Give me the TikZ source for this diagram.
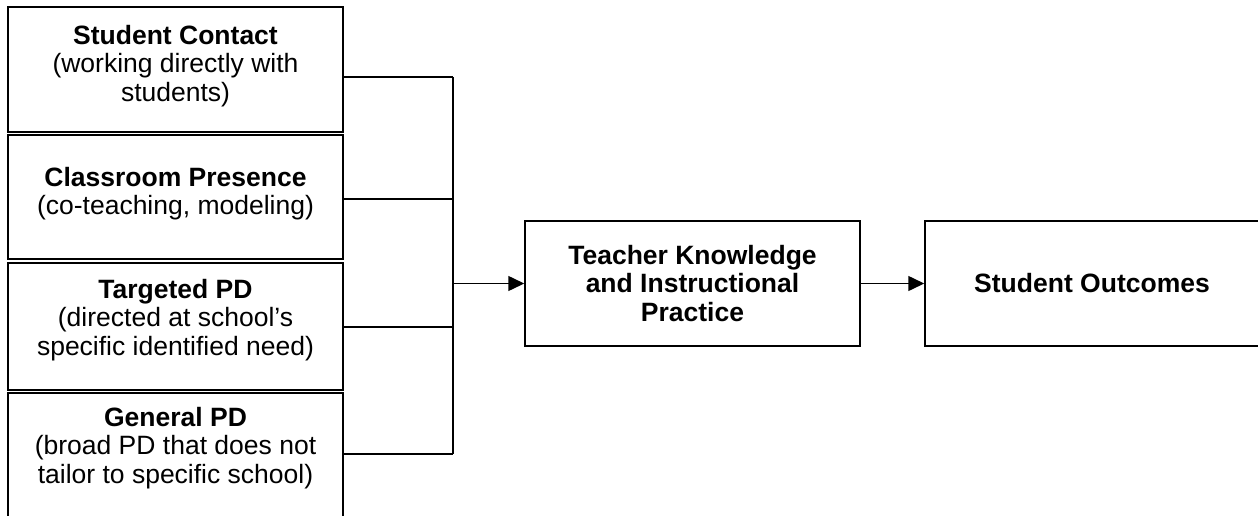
\documentclass[tikz,border=0pt]{standalone}
\usepackage{fontspec}
\setmainfont{Liberation Sans}
\usetikzlibrary{arrows.meta}
\begin{document}
\begin{tikzpicture}[x=1pt,y=-1pt,
  box/.style={draw,line width=1.5pt,inner sep=0pt},
  txt/.style={inner sep=0pt,align=center,font=\fontsize{26.5}{28.5}\selectfont},
  arr/.style={line width=1.5pt,-{Triangle[length=16pt,width=15pt]}},
  conn/.style={line width=1.5pt}]
\useasboundingbox (0,0) rectangle (1258,516);
\clip (0,0) rectangle (1258,516);
% left boxes
\node[box,minimum width=335pt,minimum height=125pt] (b1) at (175.5,69.5) {};
\node[box,minimum width=335pt,minimum height=124pt] (b2) at (175.5,197) {};
\node[box,minimum width=335pt,minimum height=127pt] (b3) at (175.5,326.5) {};
\node[box,minimum width=335pt,minimum height=127pt] (b4) at (175.5,456.5) {};
% left texts
\node[txt,anchor=north] (l1) at (175.5,25) {\textbf{Student Contact}\\(working directly with\\students)};
\node[txt,anchor=north] (l2) at (175.5,167) {\textbf{Classroom Presence}\\(co-teaching, modeling)};
\node[txt,anchor=north] (l3) at (175.5,279) {\textbf{Targeted PD}\\(directed at school’s\\specific identified need)};
\node[txt,anchor=north] (l4) at (175.5,407) {\textbf{General PD}\\(broad PD that does not\\tailor to specific school)};
% right boxes
\node[box,txt,minimum width=335pt,minimum height=125pt] (tk) at (692.5,283.5) {\textbf{Teacher Knowledge}\\\textbf{and Instructional}\\\textbf{Practice}};
\node[box,txt,minimum width=334pt,minimum height=125pt] (so) at (1092,283.5) {\textbf{Student Outcomes}};
% connectors
\coordinate (t1) at (453,77);
\coordinate (t2) at (453,199);
\coordinate (t3) at (453,327);
\coordinate (t4) at (453,454);
\coordinate (j) at (453,283.5);
\draw[conn] (t1 -| b1.east) -- (t1);
\draw[conn] (t2 -| b2.east) -- (t2);
\draw[conn] (t3 -| b3.east) -- (t3);
\draw[conn] (t4 -| b4.east) -- (t4);
\draw[conn] (t1) -- (t4);
\draw[arr] (j) -- (tk.west);
\draw[arr] (tk.east) -- (so.west);
\end{tikzpicture}
\end{document}
